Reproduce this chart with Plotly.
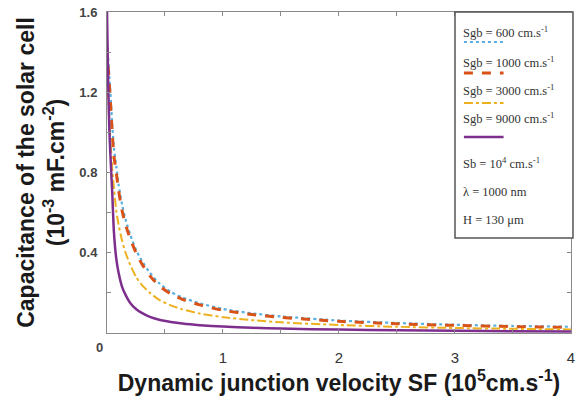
import plotly.graph_objects as go

# Data
sf = [0, 0.01, 0.02, 0.03, 0.045, 0.06, 0.08, 0.1, 0.13, 0.16, 0.2, 0.25, 0.3,
      0.37, 0.45, 0.55, 0.65, 0.8, 1.0, 1.25, 1.5, 2.0, 2.5, 3.0, 3.5, 4.0]

c_600 = [1.46, 1.37, 1.28, 1.19, 1.04, 0.92, 0.83, 0.74, 0.64, 0.565, 0.49, 0.415, 0.36,
         0.30, 0.248, 0.205, 0.177, 0.148, 0.12, 0.098, 0.083, 0.062, 0.05, 0.041, 0.035, 0.031]
c_1000 = [1.42, 1.33, 1.24, 1.15, 1.0, 0.88, 0.8, 0.71, 0.61, 0.54, 0.47, 0.40, 0.345,
          0.285, 0.235, 0.195, 0.168, 0.14, 0.113, 0.092, 0.078, 0.058, 0.046, 0.038, 0.032, 0.028]
c_3000 = [1.30, 1.18, 1.06, 0.96, 0.82, 0.72, 0.61, 0.54, 0.46, 0.40, 0.34, 0.28, 0.24,
          0.20, 0.165, 0.138, 0.118, 0.097, 0.079, 0.064, 0.053, 0.04, 0.031, 0.025, 0.021, 0.018]
c_9000 = [1.60, 1.25, 1.02, 0.88, 0.70, 0.50, 0.37, 0.30, 0.23, 0.19, 0.15, 0.12, 0.10,
          0.08, 0.066, 0.055, 0.047, 0.039, 0.032, 0.026, 0.022, 0.017, 0.014, 0.011, 0.009, 0.008]

series = [
    ("Sgb = 600 cm.s<sup>-1</sup>", c_600, "#5aaee0", "dot", 2.2),
    ("Sgb = 1000 cm.s<sup>-1</sup>", c_1000, "#d95319", "dash", 3),
    ("Sgb = 3000 cm.s<sup>-1</sup>", c_3000, "#edb120", "dashdot", 2),
    ("Sgb = 9000 cm.s<sup>-1</sup>", c_9000, "#7e2f8e", "solid", 2.5),
]
extra_labels = ["Sb = 10<sup>4</sup> cm.s<sup>-1</sup>", "λ = 1000 nm", "H = 130 μm"]

x_ticks = [0, 0.5, 1, 1.5, 2, 2.5, 3, 3.5, 4]
x_tick_text = ["", "", "1", "", "2", "", "3", "", "4"]
y_ticks = [0, 0.2, 0.4, 0.6, 0.8, 1.0, 1.2, 1.4, 1.6]
y_tick_text = ["", "", "<b>0.4</b>", "", "<b>0.8</b>", "", "<b>1.2</b>", "", "<b>1.6</b>"]

W, H = 579, 396
L, R, T, B = 107, 4, 12, 63
pw, ph = W - L - R, H - T - B


def px(x):
    return (x - L) / pw


def py(y):
    return (H - B - y) / ph


fig = go.Figure()
for name, vals, color, dash, width in series:
    fig.add_trace(go.Scatter(x=sf, y=vals, mode="lines", name=name,
                             line=dict(color=color, dash=dash, width=width,
                                       shape="spline", smoothing=0.6),
                             showlegend=False))

axis_common = dict(showgrid=False, zeroline=False, showline=True, linecolor="#8a8a8a",
                   linewidth=1, mirror="ticks", ticks="inside", ticklen=4,
                   tickcolor="#8a8a8a")

fig.update_xaxes(range=[0, 4.0005], tickmode="array", tickvals=x_ticks, ticktext=x_tick_text,
                 tickfont=dict(family="Liberation Sans, Arial", size=15, color="#333"),
                 ticklabelstandoff=11, ticklabeloverflow="allow",
                 title=dict(text="<b>Dynamic junction velocity SF (10<sup>5</sup>cm.s<sup>-1</sup>)</b>",
                            font=dict(family="Liberation Sans, Arial", size=23, color="#1a1a1a"),
                            standoff=2),
                 **axis_common)
fig.update_yaxes(range=[0, 1.6], tickmode="array", tickvals=y_ticks, ticktext=y_tick_text,
                 tickfont=dict(family="Liberation Sans, Arial", size=13, color="#444"),
                 ticklabelstandoff=6,
                 title=dict(text="<b>Capacitance of the solar cell<br>(10<sup>-3</sup> mF.cm<sup>-2</sup>)</b>",
                            font=dict(family="Liberation Sans, Arial", size=23, color="#1a1a1a"),
                            standoff=8),
                 **axis_common)

shapes = []
annotations = []
# legend box
shapes.append(dict(type="rect", xref="paper", yref="paper", x0=px(458), x1=px(577),
                   y0=py(238), y1=py(12), line=dict(color="#555", width=1.5),
                   fillcolor="white", layer="above"))
text_y = [32, 62, 90, 118, 163, 192, 220]
sample_y = [42, 73, 103, 137]
labels = [s[0] for s in series] + extra_labels
for i, lab in enumerate(labels):
    annotations.append(dict(xref="paper", yref="paper", x=px(464), y=py(text_y[i]),
                            text=lab, showarrow=False, xanchor="left", yanchor="middle",
                            font=dict(family="Liberation Serif, Times New Roman", size=12.5,
                                      color="#333")))
for i, (name, vals, color, dash, width) in enumerate(series):
    shapes.append(dict(type="line", xref="paper", yref="paper", x0=px(467), x1=px(507),
                       y0=py(sample_y[i]), y1=py(sample_y[i]),
                       line=dict(color=color, dash=dash, width=width), layer="above"))
# origin label
annotations.append(dict(xref="paper", yref="paper", x=px(99), y=py(348), text="<b>0</b>",
                        showarrow=False, xanchor="center", yanchor="middle",
                        font=dict(family="Liberation Sans, Arial", size=13, color="#444")))

fig.update_layout(width=W, height=H, margin=dict(l=L, r=R, t=T, b=B),
                  paper_bgcolor="white", plot_bgcolor="white",
                  shapes=shapes, annotations=annotations)

fig.write_html("out.html")
